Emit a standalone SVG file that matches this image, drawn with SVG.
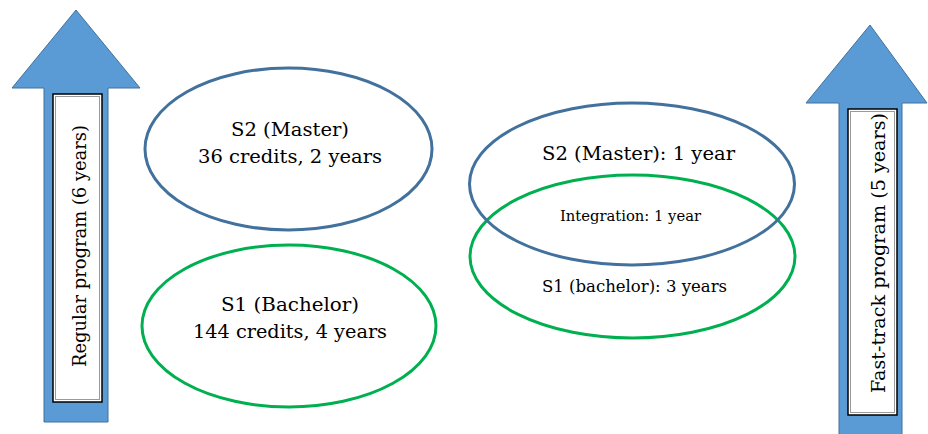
<svg xmlns="http://www.w3.org/2000/svg" width="928" height="434" viewBox="0 0 928 434">
<style>
.arrow{fill:#5B9BD5;stroke:#41719C;stroke-width:1}
.box{fill:#fff;stroke:#000;stroke-width:1.5}
.boxin{fill:none;stroke:#9a9a9a;stroke-width:1}
.eb{fill:none;stroke:#41719C;stroke-width:3}
.eg{fill:none;stroke:#00B050;stroke-width:3}
text{font-family:"DejaVu Serif","Liberation Serif",serif;fill:#000;text-anchor:middle}
.t19{font-size:19px}
.t18{font-size:18px}
.t17{font-size:17px}
.t15{font-size:15.5px}
.t20{font-size:19px}
</style>
<rect width="928" height="434" fill="#fff"/>
<g id="regular-program">
<polygon class="arrow" points="76,10 140,88 108,88 108,422 44,422 44,88 12,88"/>
<rect class="box" x="53" y="94" width="49" height="308"/>
<rect class="boxin" x="55.5" y="96.5" width="44" height="303"/>
<text class="t20" transform="translate(86,246) rotate(-90)" textLength="242" lengthAdjust="spacingAndGlyphs">Regular program (6 years)</text>
</g>
<g id="fast-track-program">
<polygon class="arrow" points="870,25 927,103 902,103 902,436 839,436 839,103 806,103"/>
<rect class="box" x="848" y="109" width="49" height="306"/>
<rect class="boxin" x="850.5" y="111.5" width="44" height="301"/>
<text class="t20" transform="translate(885,253) rotate(-90)" textLength="280" lengthAdjust="spacingAndGlyphs">Fast-track program (5 years)</text>
</g>
<g id="s2-regular">
<ellipse class="eb" cx="288.5" cy="149" rx="143.5" ry="81"/>
<text class="t19" x="290" y="136" textLength="118" lengthAdjust="spacingAndGlyphs">S2 (Master)</text>
<text class="t19" x="290" y="163" textLength="184" lengthAdjust="spacingAndGlyphs">36 credits, 2 years</text>
</g>
<g id="s1-regular">
<ellipse class="eg" cx="289" cy="326" rx="147" ry="81"/>
<text class="t19" x="290" y="311" textLength="138" lengthAdjust="spacingAndGlyphs">S1 (Bachelor)</text>
<text class="t19" x="290" y="338" textLength="194" lengthAdjust="spacingAndGlyphs">144 credits, 4 years</text>
</g>
<g id="s1-fast">
<ellipse class="eg" cx="632.5" cy="256.5" rx="162.5" ry="81.5"/>
<text class="t17" x="634.5" y="292" textLength="185" lengthAdjust="spacingAndGlyphs">S1 (bachelor): 3 years</text>
</g>
<g id="s2-fast">
<ellipse class="eb" cx="632" cy="184" rx="162.5" ry="81"/>
<text class="t18" x="638.5" y="160" textLength="193" lengthAdjust="spacingAndGlyphs">S2 (Master): 1 year</text>
</g>
<g id="integration">
<text class="t15" x="630.5" y="221" textLength="141" lengthAdjust="spacingAndGlyphs">Integration: 1 year</text>
</g>
<g id="connectors"></g>
</svg>
